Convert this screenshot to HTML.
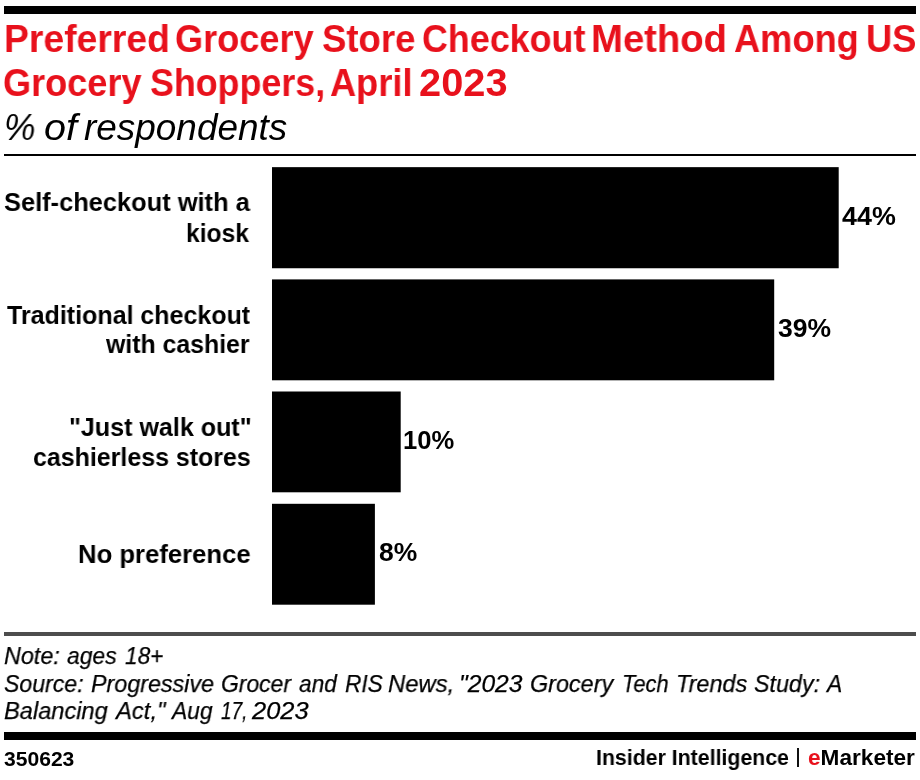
<!DOCTYPE html>
<html><head><meta charset="utf-8"><title>Preferred Grocery Store Checkout Method</title>
<style>
html,body{margin:0;padding:0;background:#fff}
body{width:920px;height:780px;position:relative;overflow:hidden;font-family:'Liberation Sans', sans-serif}
.t{position:absolute;white-space:nowrap;transform-origin:0 0;will-change:transform;font-family:'Liberation Sans', sans-serif}
.r{position:absolute;background:#000}
#ta0{left:3.60px;top:15.70px;font-size:38.6px;line-height:46px;font-weight:bold;font-style:normal;color:#e8111c;transform:scaleX(0.9669)}
#ta1{left:175.13px;top:15.70px;font-size:38.6px;line-height:46px;font-weight:bold;font-style:normal;color:#e8111c;transform:scaleX(0.9370)}
#ta2{left:322.25px;top:15.70px;font-size:38.6px;line-height:46px;font-weight:bold;font-style:normal;color:#e8111c;transform:scaleX(0.9458)}
#ta3{left:422.24px;top:15.70px;font-size:38.6px;line-height:46px;font-weight:bold;font-style:normal;color:#e8111c;transform:scaleX(0.9295)}
#ta4{left:591.02px;top:15.70px;font-size:38.6px;line-height:46px;font-weight:bold;font-style:normal;color:#e8111c;transform:scaleX(0.9917)}
#ta5{left:734.26px;top:15.70px;font-size:38.6px;line-height:46px;font-weight:bold;font-style:normal;color:#e8111c;transform:scaleX(0.9395)}
#ta6{left:865.92px;top:15.70px;font-size:38.6px;line-height:46px;font-weight:bold;font-style:normal;color:#e8111c;transform:scaleX(0.9420)}
#tb0{left:3.33px;top:60.00px;font-size:38.6px;line-height:46px;font-weight:bold;font-style:normal;color:#e8111c;transform:scaleX(0.9363)}
#tb1{left:149.87px;top:60.00px;font-size:38.6px;line-height:46px;font-weight:bold;font-style:normal;color:#e8111c;transform:scaleX(0.9281)}
#tb2{left:330.26px;top:60.00px;font-size:38.6px;line-height:46px;font-weight:bold;font-style:normal;color:#e8111c;transform:scaleX(0.9381)}
#tb3{left:418.97px;top:60.00px;font-size:38.6px;line-height:46px;font-weight:bold;font-style:normal;color:#e8111c;transform:scaleX(1.0313)}
#st0{left:4.15px;top:106.00px;font-size:36px;line-height:43px;font-weight:normal;font-style:italic;color:#000;transform:scaleX(0.9821)}
#st1{left:44.00px;top:106.00px;font-size:36px;line-height:43px;font-weight:normal;font-style:italic;color:#000;transform:scaleX(1.0969)}
#st2{left:84.27px;top:106.00px;font-size:36px;line-height:43px;font-weight:normal;font-style:italic;color:#000;transform:scaleX(1.0255)}
#c1a{left:3.84px;top:186.40px;font-size:26.5px;line-height:32px;font-weight:bold;font-style:normal;color:#000;transform:scaleX(0.9592)}
#c1b{left:186.14px;top:216.60px;font-size:26.5px;line-height:32px;font-weight:bold;font-style:normal;color:#000;transform:scaleX(0.9303)}
#c2a{left:7.00px;top:298.60px;font-size:26.5px;line-height:32px;font-weight:bold;font-style:normal;color:#000;transform:scaleX(0.9436)}
#c2b{left:106.00px;top:328.40px;font-size:26.5px;line-height:32px;font-weight:bold;font-style:normal;color:#000;transform:scaleX(0.9379)}
#c3a{left:68.81px;top:410.70px;font-size:26.5px;line-height:32px;font-weight:bold;font-style:normal;color:#000;transform:scaleX(0.9460)}
#c3b{left:32.96px;top:440.60px;font-size:26.5px;line-height:32px;font-weight:bold;font-style:normal;color:#000;transform:scaleX(0.9415)}
#c4a{left:77.86px;top:537.60px;font-size:26.5px;line-height:32px;font-weight:bold;font-style:normal;color:#000;transform:scaleX(0.9686)}
#v1{left:842.30px;top:201.20px;font-size:25.5px;line-height:31px;font-weight:bold;font-style:normal;color:#000;transform:scaleX(1.0540)}
#v2{left:777.66px;top:313.20px;font-size:25.5px;line-height:31px;font-weight:bold;font-style:normal;color:#000;transform:scaleX(1.0388)}
#v3{left:402.69px;top:425.20px;font-size:25.5px;line-height:31px;font-weight:bold;font-style:normal;color:#000;transform:scaleX(1.0042)}
#v4{left:379.46px;top:537.20px;font-size:25.5px;line-height:31px;font-weight:bold;font-style:normal;color:#000;transform:scaleX(1.0371)}
#na0{left:3.85px;top:641.10px;font-size:24.5px;line-height:29px;font-weight:normal;font-style:italic;color:#000;transform:scaleX(0.9526)}
#na1{left:66.87px;top:641.10px;font-size:24.5px;line-height:29px;font-weight:normal;font-style:italic;color:#000;transform:scaleX(0.9327)}
#na2{left:124.78px;top:641.10px;font-size:24.5px;line-height:29px;font-weight:normal;font-style:italic;color:#000;transform:scaleX(0.9225)}
#nb0{left:3.76px;top:668.70px;font-size:24.5px;line-height:29px;font-weight:normal;font-style:italic;color:#000;transform:scaleX(0.9422)}
#nb1{left:90.65px;top:668.70px;font-size:24.5px;line-height:29px;font-weight:normal;font-style:italic;color:#000;transform:scaleX(0.9508)}
#nb2{left:221.47px;top:668.70px;font-size:24.5px;line-height:29px;font-weight:normal;font-style:italic;color:#000;transform:scaleX(0.9347)}
#nb3{left:299.38px;top:668.70px;font-size:24.5px;line-height:29px;font-weight:normal;font-style:italic;color:#000;transform:scaleX(0.9244)}
#nb4{left:344.68px;top:668.70px;font-size:24.5px;line-height:29px;font-weight:normal;font-style:italic;color:#000;transform:scaleX(0.9231)}
#nb5{left:387.73px;top:668.70px;font-size:24.5px;line-height:29px;font-weight:normal;font-style:italic;color:#000;transform:scaleX(0.9734)}
#nb6{left:459.19px;top:668.70px;font-size:24.5px;line-height:29px;font-weight:normal;font-style:italic;color:#000;transform:scaleX(1.0049)}
#nb7{left:530.05px;top:668.70px;font-size:24.5px;line-height:29px;font-weight:normal;font-style:italic;color:#000;transform:scaleX(0.9540)}
#nb8{left:622.21px;top:668.70px;font-size:24.5px;line-height:29px;font-weight:normal;font-style:italic;color:#000;transform:scaleX(0.8939)}
#nb9{left:675.89px;top:668.70px;font-size:24.5px;line-height:29px;font-weight:normal;font-style:italic;color:#000;transform:scaleX(0.9569)}
#nb10{left:753.95px;top:668.70px;font-size:24.5px;line-height:29px;font-weight:normal;font-style:italic;color:#000;transform:scaleX(0.9500)}
#nb11{left:826.53px;top:668.70px;font-size:24.5px;line-height:29px;font-weight:normal;font-style:italic;color:#000;transform:scaleX(0.9312)}
#nc0{left:3.94px;top:696.40px;font-size:24.5px;line-height:29px;font-weight:normal;font-style:italic;color:#000;transform:scaleX(0.9642)}
#nc1{left:115.77px;top:696.40px;font-size:24.5px;line-height:29px;font-weight:normal;font-style:italic;color:#000;transform:scaleX(0.9717)}
#nc2{left:172.43px;top:696.40px;font-size:24.5px;line-height:29px;font-weight:normal;font-style:italic;color:#000;transform:scaleX(0.9318)}
#nc3{left:221.03px;top:696.40px;font-size:24.5px;line-height:29px;font-weight:normal;font-style:italic;color:#000;transform:scaleX(0.7733)}
#nc4{left:252.00px;top:696.40px;font-size:24.5px;line-height:29px;font-weight:normal;font-style:italic;color:#000;transform:scaleX(1.0370)}
#f1{left:3.72px;top:747.60px;font-size:19.5px;line-height:23px;font-weight:bold;font-style:normal;color:#000;transform:scaleX(1.0810)}
#f2a{left:595.89px;top:743.70px;font-size:22.3px;line-height:27px;font-weight:bold;font-style:normal;color:#000;transform:scaleX(0.9553)}
#f2c{left:808.19px;top:743.70px;font-size:22.3px;line-height:27px;font-weight:bold;font-style:normal;color:#000;transform:scaleX(1.0144)}
[id^="na"],[id^="nb"],[id^="nc"]{-webkit-text-stroke:0.25px #000}
</style></head><body>
<div class="r" style="left:4px;top:6px;width:912px;height:8px"></div>
<div class="r" style="left:4px;top:154px;width:912px;height:2px"></div>
<svg width="920" height="780" viewBox="0 0 920 780" style="position:absolute;left:0;top:0">
<rect x="272" y="167.15" width="566.7" height="101.1" fill="#000"/>
<rect x="272" y="279.4" width="502.2" height="100.9" fill="#000"/>
<rect x="272" y="391.5" width="128.7" height="100.8" fill="#000"/>
<rect x="272" y="503.8" width="102.9" height="100.9" fill="#000"/>
</svg>
<div class="r" style="left:4px;top:632px;width:912px;height:4px;background:#4d4d4d"></div>
<div class="r" style="left:4px;top:732px;width:912px;height:8px"></div>
<div class="r" style="left:797px;top:748px;width:2px;height:18.5px;background:#111"></div>
<div class="t" id="ta0">Preferred</div>
<div class="t" id="ta1">Grocery</div>
<div class="t" id="ta2">Store</div>
<div class="t" id="ta3">Checkout</div>
<div class="t" id="ta4">Method</div>
<div class="t" id="ta5">Among</div>
<div class="t" id="ta6">US</div>
<div class="t" id="tb0">Grocery</div>
<div class="t" id="tb1">Shoppers,</div>
<div class="t" id="tb2">April</div>
<div class="t" id="tb3">2023</div>
<div class="t" id="st0">%</div>
<div class="t" id="st1">of</div>
<div class="t" id="st2">respondents</div>
<div class="t" id="c1a">Self-checkout with a</div>
<div class="t" id="c1b">kiosk</div>
<div class="t" id="c2a">Traditional checkout</div>
<div class="t" id="c2b">with cashier</div>
<div class="t" id="c3a">"Just walk out"</div>
<div class="t" id="c3b">cashierless stores</div>
<div class="t" id="c4a">No preference</div>
<div class="t" id="v1">44%</div>
<div class="t" id="v2">39%</div>
<div class="t" id="v3">10%</div>
<div class="t" id="v4">8%</div>
<div class="t" id="na0">Note:</div>
<div class="t" id="na1">ages</div>
<div class="t" id="na2">18+</div>
<div class="t" id="nb0">Source:</div>
<div class="t" id="nb1">Progressive</div>
<div class="t" id="nb2">Grocer</div>
<div class="t" id="nb3">and</div>
<div class="t" id="nb4">RIS</div>
<div class="t" id="nb5">News,</div>
<div class="t" id="nb6">"2023</div>
<div class="t" id="nb7">Grocery</div>
<div class="t" id="nb8">Tech</div>
<div class="t" id="nb9">Trends</div>
<div class="t" id="nb10">Study:</div>
<div class="t" id="nb11">A</div>
<div class="t" id="nc0">Balancing</div>
<div class="t" id="nc1">Act,"</div>
<div class="t" id="nc2">Aug</div>
<div class="t" id="nc3">17,</div>
<div class="t" id="nc4">2023</div>
<div class="t" id="f1">350623</div>
<div class="t" id="f2a">Insider Intelligence</div>
<div class="t" id="f2c"><span style="color:#e8111c">e</span>Marketer</div>
</body></html>
